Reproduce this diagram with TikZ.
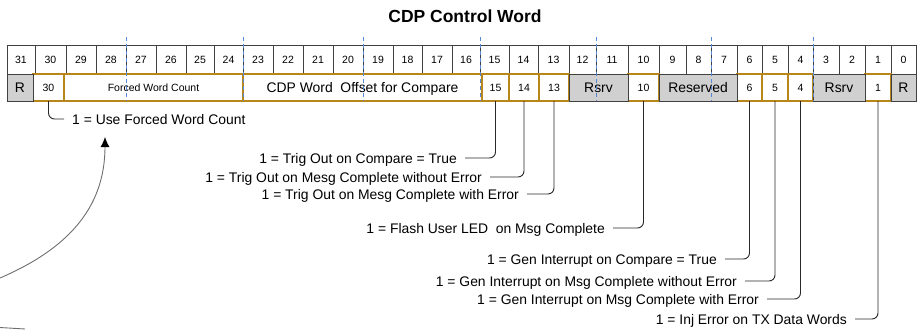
\documentclass[tikz,border=0pt]{standalone}
\usepackage{fontspec}
\setmainfont{Liberation Sans}
\usetikzlibrary{arrows.meta}
\definecolor{cellline}{RGB}{64,64,64}
\definecolor{orangeline}{RGB}{185,135,25}
\definecolor{grayfill}{RGB}{208,208,208}
\definecolor{dashblue}{RGB}{85,135,210}
\definecolor{leadcol}{RGB}{40,40,40}
\definecolor{curvecol}{RGB}{110,110,110}
\begin{document}
\begin{tikzpicture}[x=1pt,y=-1pt,
  bitcell/.style={draw=cellline, line width=1pt, fill=white, inner sep=0pt, outer sep=0pt,
    minimum height=29pt, font=\fontsize{10.5}{12}\selectfont, text height=7.5pt, text depth=0pt},
  fsmall/.style={draw=orangeline, line width=1.2pt, fill=white, inner sep=0pt, outer sep=0pt,
    minimum height=27pt, font=\fontsize{10.5}{12}\selectfont, text height=7.5pt, text depth=0pt},
  fbig/.style={draw=orangeline, line width=1.2pt, fill=white, inner sep=0pt, outer sep=0pt,
    minimum height=27pt, font=\fontsize{13.9}{16}\selectfont, text height=10pt, text depth=0pt},
  rsvbig/.style={draw=cellline, line width=1pt, fill=grayfill, inner sep=0pt, outer sep=0pt,
    minimum height=27pt, font=\fontsize{13.9}{16}\selectfont, text height=10pt, text depth=0pt},
  note/.style={font=\fontsize{13.9}{16}\selectfont, inner xsep=8pt, inner ysep=0pt,
    text height=10pt, text depth=0pt},
  leader/.style={draw=leadcol, line width=0.9pt, rounded corners=6pt},
  bitdash/.style={draw=dashblue, line width=1pt, dash pattern=on 4pt off 3pt},
  curve/.style={draw=curvecol, line width=0.9pt}
]
\useasboundingbox (0,0) rectangle (919,330);

\node[font=\bfseries\fontsize{17.5}{20}\selectfont] (title) at (465,16) {CDP Control Word};

% top row of bit numbers
\foreach \l/\r/\n in {7/35/31,35/66/30,66/96/29,96/126/28,126/156/27,156/186/26,186/214/25,214/243/24,
  243/273/23,273/303/22,303/333/21,333/363/20,363/393/19,393/422/18,422/452/17,452/480/16,
  480/509/15,509/538/14,538/569/13,569/596/12,596/628/11,628/659/10,659/686/9,686/711/8,
  711/737/7,737/762/6,762/788/5,788/813/4,813/839/3,839/865/2,865/891/1,891/916/0}
  \node[bitcell, minimum width={(\r-\l)*1pt}] (b\n) at ({(\l+\r)/2},59.5) {\n};

% second row of fields
\foreach \l/\r/\t/\s/\m in {33/64/30/fsmall/r30, 64/243/Forced Word Count/fsmall/rfwc,
  243/482/CDP Word\ \ Offset for Compare/fbig/rcdp, 482/509/15/fsmall/r15, 509/539/14/fsmall/r14,
  539/569/13/fsmall/r13, 628/659/10/fsmall/r10, 737/762/6/fsmall/r6, 762/788/5/fsmall/r5,
  788/813/4/fsmall/r4, 865/891/1/fsmall/r1}
  \node[\s, minimum width={(\r-\l)*1pt}] (\m) at ({(\l+\r)/2},87.5) {\t};
\foreach \l/\r/\t/\m in {7/33/R/rR31, 569/628/Rsrv/rsv12, 659/737/Reserved/rsv9,
  813/865/Rsrv/rsv3, 891/916/R/rR0}
  \node[rsvbig, minimum width={(\r-\l)*1pt}] (\m) at ({(\l+\r)/2},87.5) {\t};

% dashed byte/nibble markers
\foreach \x [count=\i] in {126,243,363,480,596,711,813} {
  \coordinate (dt\i) at (\x,37);
  \coordinate (db\i) at (\x,101);
  \draw[bitdash] (dt\i) -- (db\i);
}

% notes
\node[note, anchor=west] (t30) at (64,119) {1 = Use Forced Word Count};
\node[note, anchor=east] (t15) at (465,158) {1 = Trig Out on Compare = True};
\node[note, anchor=east] (t14) at (490,177) {1 = Trig Out on Mesg Complete without Error};
\node[note, anchor=east] (t13) at (527,194) {1 = Trig Out on Mesg Complete with Error};
\node[note, anchor=east] (t10) at (613,228) {1 = Flash User LED\ \ on Msg Complete};
\node[note, anchor=east] (t6) at (725,259) {1 = Gen Interrupt on Compare = True};
\node[note, anchor=east] (t5) at (745,281) {1 = Gen Interrupt on Msg Complete without Error};
\node[note, anchor=east] (t4) at (767,299) {1 = Gen Interrupt on Msg Complete with Error};
\node[note, anchor=east] (t1) at (855,319) {1 = Inj Error on TX Data Words};

\draw[leader] (r30.south) |- (t30.west);
\foreach \k in {15,14,13,10,6,5,4,1}
  \draw[leader] (r\k.south) |- (t\k.east);

% curved arrow
\coordinate (ca) at (0,278);
\coordinate (cb) at (105,137);
\draw[curve, -{Latex[length=10pt,width=9pt,color=black]}] (ca) .. controls (65,250) and (105,210) .. (cb);
\coordinate (fa) at (0,327.5);
\coordinate (fb) at (25,329);
\draw[curve] (fa) -- (fb);
\end{tikzpicture}
\end{document}
